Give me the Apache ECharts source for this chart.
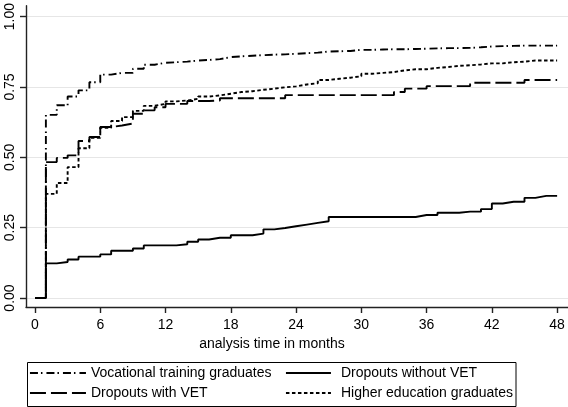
<!DOCTYPE html>
<html><head><meta charset="utf-8">
<script src="https://cdn.jsdelivr.net/npm/echarts@6/dist/echarts.min.js"></script>
<style>html,body{margin:0;padding:0;background:#fff}#c{width:568px;height:407px}</style>
</head><body><div id="c"></div>
<script>
const months = [0,1,2,3,4,5,6,7,8,9,10,11,12,13,14,15,16,17,18,19,20,21,22,23,24,25,26,27,28,29,30,31,32,33,34,35,36,37,38,39,40,41,42,43,44,45,46,47,48];
const seriesNames = ['Vocational training graduates','Dropouts without VET','Dropouts with VET','Higher education graduates'];
const vocational = [0,0.651,0.685,0.716,0.738,0.767,0.794,0.800,0.800,0.815,0.829,0.836,0.838,0.840,0.844,0.846,0.849,0.856,0.859,0.861,0.863,0.865,0.866,0.868,0.870,0.872,0.876,0.877,0.878,0.882,0.882,0.883,0.884,0.884,0.885,0.886,0.887,0.888,0.888,0.889,0.891,0.894,0.895,0.896,0.897,0.897,0.897,0.897,0.897];
const dropoutsNoVET = [0,0.123,0.128,0.137,0.147,0.147,0.155,0.168,0.168,0.176,0.187,0.187,0.187,0.191,0.200,0.208,0.214,0.214,0.223,0.223,0.229,0.244,0.249,0.255,0.261,0.267,0.273,0.288,0.288,0.288,0.288,0.288,0.288,0.288,0.288,0.295,0.295,0.303,0.303,0.307,0.307,0.316,0.336,0.342,0.342,0.356,0.363,0.363,0.363];
const dropoutsVET = [0,0.483,0.498,0.507,0.558,0.572,0.608,0.613,0.620,0.655,0.667,0.678,0.690,0.690,0.700,0.700,0.702,0.710,0.710,0.710,0.710,0.710,0.710,0.721,0.721,0.721,0.721,0.721,0.721,0.721,0.721,0.721,0.721,0.732,0.744,0.744,0.753,0.753,0.753,0.753,0.765,0.765,0.765,0.765,0.765,0.775,0.775,0.775,0.775];
const higherEd = [0,0.370,0.409,0.465,0.532,0.569,0.605,0.629,0.643,0.665,0.683,0.690,0.699,0.702,0.708,0.716,0.720,0.726,0.732,0.735,0.740,0.744,0.749,0.752,0.759,0.763,0.775,0.779,0.783,0.788,0.797,0.800,0.803,0.809,0.813,0.813,0.818,0.821,0.825,0.827,0.830,0.834,0.834,0.838,0.840,0.844,0.844,0.844,0.844];
const xTicks = [0,6,12,18,24,30,36,42,48];
const yTicks = [0,0.25,0.5,0.75,1];
const xTitle = 'analysis time in months';

const FONT = "'Liberation Sans', Arial, Helvetica, sans-serif";
const dashes = {
  'Vocational training graduates': [8,3,1.5,4],
  'Dropouts without VET': 'solid',
  'Dropouts with VET': [16,5],
  'Higher education graduates': [3.5,2.5]
};
const values = {
  'Vocational training graduates': vocational,
  'Dropouts without VET': dropoutsNoVET,
  'Dropouts with VET': dropoutsVET,
  'Higher education graduates': higherEd
};
const LW = 1.9;
const chart = echarts.init(document.getElementById('c'), null, {renderer:'canvas'});
const mkSeries = name => ({
  name, type:'line', step:'end', symbol:'none', animation:false,
  color:'#000',
  lineStyle:{color:'#000', width:LW, type: dashes[name]},
  data: months.map((m,i)=>[m, values[name][i]])
});
const legItem = name => ({name, lineStyle:{color:'#000', width:LW, type:dashes[name]}, itemStyle:{opacity:0}});
chart.setOption({
  animation:false,
  backgroundColor:'#fff',
  textStyle:{fontFamily:FONT},
  grid:{left:26, right:0, top:5, bottom:100, containLabel:false},
  xAxis:{
    type:'value', min:-0.828, max:49.0,
    name:xTitle, nameLocation:'middle', nameGap:24,
    nameTextStyle:{fontFamily:FONT, fontSize:14, color:'#000', padding:[0,50,0,0]},
    axisLine:{onZero:false, lineStyle:{color:'#222', width:1.4}},
    axisTick:{customValues:xTicks, length:6, lineStyle:{color:'#222', width:1.4}},
    axisLabel:{customValues:xTicks, margin:11, fontFamily:FONT, fontSize:14, color:'#000'},
    splitLine:{show:false}
  },
  yAxis:{
    type:'value', min:-0.0319, max:1.039,
    axisLine:{show:true, onZero:false, lineStyle:{color:'#222', width:1.4}},
    axisTick:{show:true, customValues:yTicks, length:6, lineStyle:{color:'#222', width:1.4}},
    axisLabel:{customValues:yTicks, rotate:90, margin:9, fontFamily:FONT, fontSize:14, color:'#000',
      formatter:v=>v.toFixed(2)},
    splitLine:{show:true, customValues:yTicks, lineStyle:{color:'#e6e6e6', width:1}}
  },
  legend:[
    {data:[legItem(seriesNames[0]), legItem(seriesNames[2])], orient:'vertical', left:29, top:366, padding:0,
     itemWidth:56, itemHeight:14, itemGap:6, selectedMode:false,
     textStyle:{fontFamily:FONT, fontSize:14, color:'#000'}},
    {data:[legItem(seriesNames[1]), legItem(seriesNames[3])], orient:'vertical', left:285, top:366, padding:0,
     itemWidth:45, itemHeight:14, itemGap:6, selectedMode:false,
     textStyle:{fontFamily:FONT, fontSize:14, color:'#000', padding:[0,0,0,5]}}
  ],
  graphic:[{type:'rect', silent:true, shape:{x:27.5, y:362.5, width:488.5, height:44},
    style:{fill:'none', stroke:'#000', lineWidth:1}}],
  series: seriesNames.map(mkSeries)
});
</script></body></html>
